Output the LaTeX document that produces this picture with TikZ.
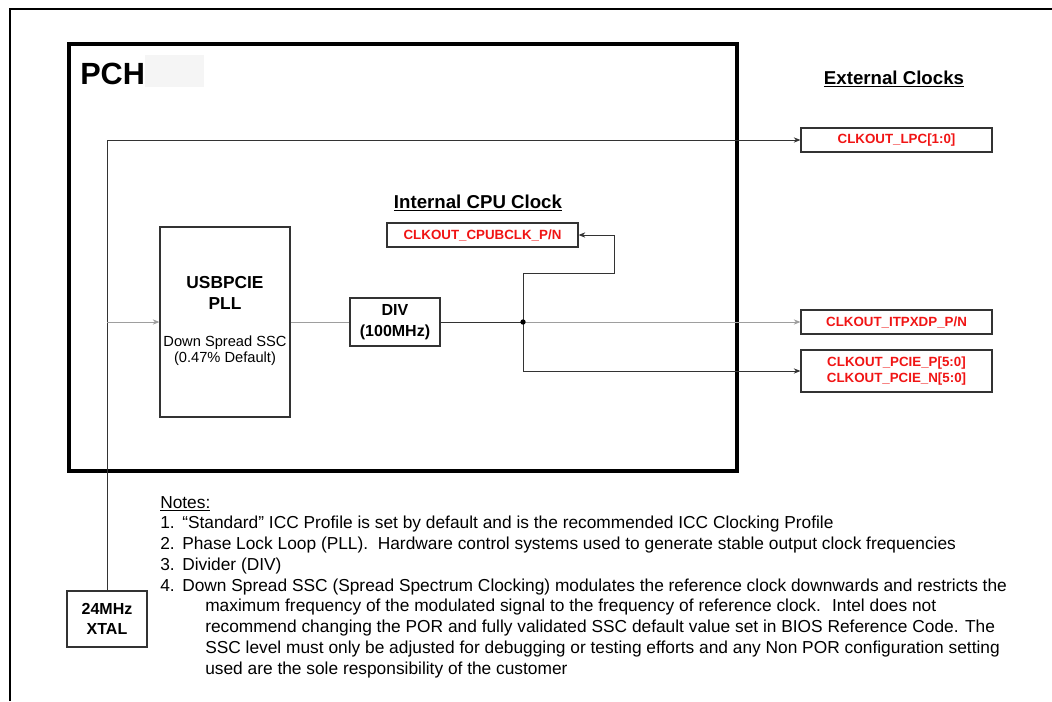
\documentclass[tikz,border=0pt]{standalone}
\usepackage{fontspec}
\setmainfont{Liberation Sans}
\usetikzlibrary{positioning, arrows.meta}
\definecolor{clkred}{RGB}{240,20,20}
\definecolor{wiregray}{gray}{0.62}

\begin{document}
\begin{tikzpicture}[>={Stealth[length=5pt, width=4pt]}, x=0.75pt, y=-0.75pt,
  box/.style={draw=black!80, line width=0.9pt, inner sep=0pt, align=center},
  clkbox/.style={box, minimum width=143.25pt, minimum height=18pt, text=clkred,
    font=\fontsize{10}{11.75}\selectfont\bfseries},
  wire/.style={black!80, line width=0.7pt},
  wirelt/.style={wiregray, line width=0.7pt},
  heading/.style={font=\fontsize{14}{16}\selectfont\bfseries, inner sep=0pt, anchor=base},
  note/.style={font=\fontsize{13}{15}\selectfont, inner sep=0pt, anchor=base west}]
  \useasboundingbox (0,0) rectangle (1052,701);
  % page frame and PCH block
  \draw[line width=1.3pt] (10,701) -- (10,9) -- (1052,9);
  \draw[line width=2.5pt] (69,44) rectangle (737,471);
  \fill[black!4] (145,55) rectangle (204,87);
  \node[anchor=base west, inner sep=0pt, font=\fontsize{23}{27}\selectfont\bfseries] (pch) at (80,84) {PCH};
  \node[heading] (exthead) at (894,84) {\underline{External Clocks}};
  \node[heading] (cpuhead) at (478,208) {\underline{Internal CPU Clock}};

  % blocks
  \node[box, minimum width=97.5pt, minimum height=142.5pt] (pll) at (225,322) {};
  \node[align=center, inner sep=0pt, font=\fontsize{13}{15.75}\selectfont\bfseries] (plltxt) at (225,293) {USBPCIE\\PLL};
  \node[align=center, inner sep=0pt, font=\fontsize{11}{12}\selectfont] (sscTxt) at (225,351) {Down Spread SSC\\(0.47\% Default)};
  \node[box, minimum width=67.5pt, minimum height=36pt, font=\fontsize{12}{15.75}\selectfont\bfseries] (div) at (395,322) {DIV\\(100MHz)};
  \node[box, minimum width=60pt, minimum height=42pt, font=\fontsize{12}{15}\selectfont\bfseries] (xtal) at (107,619) {24MHz\\XTAL};

  % clock outputs
  \node[clkbox] (lpc) at (896.5,140) {CLKOUT\_LPC[1:0]};
  \node[clkbox] (cpu) at (482.5,235) {CLKOUT\_CPUBCLK\_P/N};
  \node[clkbox] (itp) at (896.5,322) {CLKOUT\_ITPXDP\_P/N};
  \node[clkbox, minimum height=31.5pt] (pcie) at (896.5,371) {CLKOUT\_PCIE\_P[5:0]\\CLKOUT\_PCIE\_N[5:0]};

  % connectors
  \coordinate (jn) at (523,322);
  \coordinate (cpubend) at (614,273);
  \draw[wire,->] (xtal.north) |- (lpc.west);
  \draw[wirelt,->] (xtal.north |- pll.west) -- (pll.west);
  \draw[wirelt] (pll.east) -- (div.west);
  \draw[wire] (div.east) -- (jn);
  \draw[wire,->] (jn) |- (cpubend) |- (cpu.east);
  \draw[wirelt,->] (jn) -- (itp.west);
  \draw[wire,->] (jn) |- (pcie.west);
  \fill (jn) circle (2pt);

  % notes
  \node[note] (nt0) at (160,508) {\underline{Notes:}};
  \node[note] (nt1) at (160,528) {\makebox[16.5pt][l]{1.}“Standard” ICC Profile is set by default and is the recommended ICC Clocking Profile};
  \node[note] (nt2) at (160,549) {\makebox[16.5pt][l]{2.}Phase Lock Loop (PLL). \ Hardware control systems used to generate stable output clock frequencies};
  \node[note] (nt3) at (160,570) {\makebox[16.5pt][l]{3.}Divider (DIV)};
  \node[note] (nt4) at (160,591) {\makebox[16.5pt][l]{4.}Down Spread SSC (Spread Spectrum Clocking) modulates the reference clock downwards and restricts the};
  \node[note] (nt5) at (205,611) {maximum frequency of the modulated signal to the frequency of reference clock. \ Intel does not};
  \node[note] (nt6) at (205,632) {recommend changing the POR and fully validated SSC default value set in BIOS Reference Code. The};
  \node[note] (nt7) at (205,653) {SSC level must only be adjusted for debugging or testing efforts and any Non POR configuration setting};
  \node[note] (nt8) at (205,674) {used are the sole responsibility of the customer};
\end{tikzpicture}
\end{document}
